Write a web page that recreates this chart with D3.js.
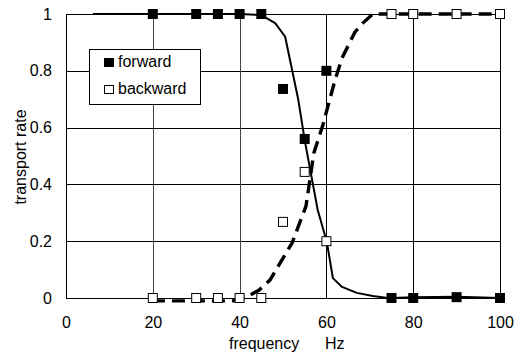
<!DOCTYPE html>
<html><head><meta charset="utf-8">
<script src="https://cdn.jsdelivr.net/npm/d3@7"></script>
<style>body{margin:0;background:#fff}svg{display:block}text{font-family:"Liberation Sans",Arial,sans-serif}</style>
</head><body><svg id="c" width="520" height="356"></svg>
<script>
const freqs = [20, 30, 35, 40, 45, 50, 55, 60, 75, 80, 90, 100];
const forward = [1, 1, 1, 1, 1, 0.736, 0.56, 0.80, 0, 0, 0.003, 0];
const backward = [0, 0, 0, 0, 0, 0.268, 0.444, 0.20, 1, 1, 1, 1];
const forwardFitX = [6.2, 19.8, 40, 45, 48.2, 50.5, 53.5, 55, 58, 60.1, 61.5, 63.6, 67, 70.7, 74.2, 75, 80, 90, 100];
const forwardFitY = [1.0, 1.0, 1.0, 0.996, 0.968, 0.92, 0.70, 0.556, 0.31, 0.197, 0.07, 0.039, 0.018, 0.007, 0, 0, 0.003, 0.004, 0];
const backwardFitX = [19.8, 38.5, 41.2, 44.5, 47, 52.1, 55.3, 57.1, 59.2, 62, 63.6, 66.6, 68.4, 70.7, 75, 80, 90, 100];
const backwardFitY = [-0.01, -0.01, 0, 0.028, 0.063, 0.194, 0.324, 0.51, 0.61, 0.768, 0.845, 0.937, 0.968, 1.0, 1.0, 1.0, 1.0, 1.0];
const xTicks = [0, 20, 40, 60, 80, 100];
const yTicks = [0, 0.2, 0.4, 0.6, 0.8, 1];
const yTickLabels = ["0", "0.2", "0.4", "0.6", "0.8", "1"];
const seriesNames = ["forward", "backward"];

const svg = d3.select("#c");
const x = d3.scaleLinear().domain([0, 100]).range([66, 500]);
const y = d3.scaleLinear().domain([0, 1]).range([298, 14]);
const FS = 16;

// grid
const g = svg.append("g");
g.selectAll("line.h").data(yTicks).join("line")
  .attr("x1", x(0)).attr("x2", x(100) + 1)
  .attr("y1", d => Math.round(y(d)) + 0.5).attr("y2", d => Math.round(y(d)) + 0.5)
  .attr("stroke", "#000").attr("stroke-width", 1);
g.selectAll("line.v").data(xTicks).join("line")
  .attr("y1", y(0) + 1).attr("y2", y(1))
  .attr("x1", d => Math.round(x(d)) + 0.5).attr("x2", d => Math.round(x(d)) + 0.5)
  .attr("stroke", d => (d === 20 || d === 40) ? "#444" : "#000").attr("stroke-width", 1);

// axes labels via d3 axes (no tick lines)
const xAxis = svg.append("g").attr("transform", `translate(0,${y(0)})`)
  .call(d3.axisBottom(x).tickValues(xTicks).tickSize(0).tickPadding(19).tickFormat(d3.format("d")));
xAxis.select(".domain").remove();
xAxis.selectAll("text").attr("font-size", FS).attr("font-family", "Liberation Sans, Arial, sans-serif").attr("fill", "#000");

const yAxis = svg.append("g").attr("transform", `translate(${x(0)},0)`)
  .call(d3.axisLeft(y).tickValues(yTicks).tickSize(0).tickPadding(14).tickFormat((d, i) => yTickLabels[i]));
yAxis.select(".domain").remove();
yAxis.selectAll("text").attr("font-size", FS).attr("font-family", "Liberation Sans, Arial, sans-serif").attr("fill", "#000");

// curves
const line = d3.line().x(d => x(d[0])).y(d => y(d[1]));
svg.append("path").datum(forwardFitX.map((f, i) => [f, forwardFitY[i]]))
  .attr("d", line).attr("fill", "none").attr("stroke", "#000").attr("stroke-width", 2).attr("stroke-linejoin", "round");
svg.append("path").datum(backwardFitX.map((f, i) => [f, backwardFitY[i]]))
  .attr("d", line).attr("fill", "none").attr("stroke", "#000").attr("stroke-width", 3.4).attr("stroke-dasharray", "13,7");

// markers
const s = 10;
svg.selectAll("rect.f").data(freqs.map((f, i) => [f, forward[i]])).join("rect")
  .attr("x", d => x(d[0]) - s / 2).attr("y", d => y(d[1]) - s / 2).attr("width", s).attr("height", s)
  .attr("fill", "#000");
svg.selectAll("rect.b").data(freqs.map((f, i) => [f, backward[i]])).join("rect")
  .attr("x", d => x(d[0]) - s / 2 + 0.5).attr("y", d => y(d[1]) - s / 2 + 0.5).attr("width", s - 1).attr("height", s - 1)
  .attr("fill", "#fff").attr("stroke", "#000").attr("stroke-width", 1);

// legend
const lg = svg.append("g");
lg.append("rect").attr("x", 89.5).attr("y", 49.5).attr("width", 111).attr("height", 55)
  .attr("fill", "#fff").attr("stroke", "#000").attr("stroke-width", 1);
lg.append("rect").attr("x", 104).attr("y", 58).attr("width", 10).attr("height", 9).attr("fill", "#000");
lg.append("rect").attr("x", 104.5).attr("y", 85.5).attr("width", 9).attr("height", 8).attr("fill", "#fff").attr("stroke", "#000");
lg.append("text").attr("x", 118).attr("y", 67).attr("font-size", FS).text(seriesNames[0]);
lg.append("text").attr("x", 118).attr("y", 94).attr("font-size", FS).text(seriesNames[1]);

// axis titles
svg.append("text").attr("x", 229).attr("y", 349).attr("font-size", FS).text("frequency");
svg.append("text").attr("x", 325).attr("y", 349).attr("font-size", FS).text("Hz");
svg.append("text").attr("transform", "translate(26,157) rotate(-90)").attr("text-anchor", "middle")
  .attr("font-size", FS).text("transport rate");
</script></body></html>
